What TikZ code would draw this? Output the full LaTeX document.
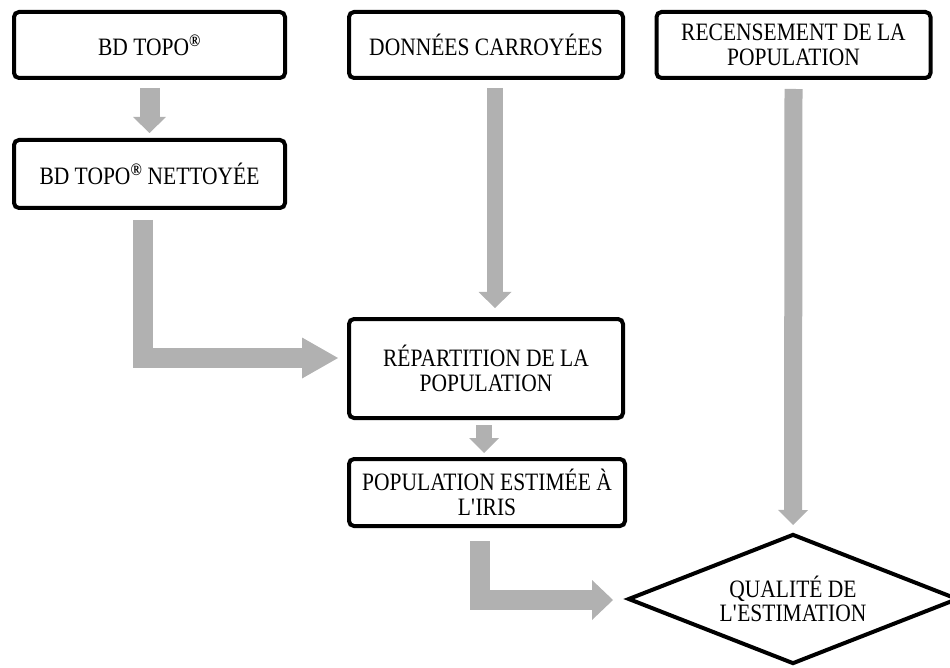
\documentclass[tikz,border=0pt]{standalone}
\usepackage{fontspec}
\setmainfont{Liberation Serif}[FakeStretch=0.86]
\usetikzlibrary{arrows.meta,shapes.geometric}
\definecolor{flowgrey}{HTML}{B1B1B1}

\begin{document}
\begin{tikzpicture}[x=1pt, y=-1pt,
    box/.style={draw, line width=4pt, rounded corners=5pt, fill=white, align=center,
      font=\fontsize{25}{24.5}\selectfont, inner sep=2pt},
    flow/.style n args={3}{draw=flowgrey, line width=#1,
      -{Triangle[length=#2, width=#3, line width=0pt]}}]
  \useasboundingbox (0,0) rectangle (950,668);

  % top row
  \node[box, minimum width=271pt, minimum height=66pt] (bdtopo) at (149.5,45) {BD TOPO\textsuperscript{\textbf{®}}};
  \node[box, minimum width=274pt, minimum height=66pt] (donnees) at (486,45) {DONNÉES CARROYÉES};
  \node[box, minimum width=274pt, minimum height=66pt] (recens) at (793.5,45) {RECENSEMENT DE LA\\POPULATION};

  \node[box, minimum width=271pt, minimum height=68pt] (nettoye) at (149.5,174) {BD TOPO\textsuperscript{\textbf{®}} NETTOYÉE};
  \node[box, minimum width=274pt, minimum height=99pt] (repart) at (486,368.5) {RÉPARTITION DE LA\\POPULATION};
  \node[box, minimum width=276pt, minimum height=67pt] (estim) at (487,492.5) {POPULATION ESTIMÉE À\\L\textquotesingle IRIS};
  \node[box, shape=diamond, rounded corners=0pt, aspect=2.5, inner sep=0pt,
    minimum width=330pt, minimum height=130pt] (qualite) at (793,599) {QUALITÉ DE\\L\textquotesingle ESTIMATION};

  % grey block arrows
  \draw[flow={20pt}{16pt}{33pt}] ([yshift=-8pt]bdtopo.south) -- ([yshift=5pt]nettoye.north);
  \draw[flow={20pt}{36pt}{41pt}] ([xshift=-7pt, yshift=-10pt]nettoye.south) |- ([xshift=-9pt, yshift=10.5pt]repart.west);
  \draw[flow={16pt}{16pt}{33pt}] ([xshift=9pt, yshift=-8pt]donnees.south) -- ([xshift=9pt, yshift=9pt]repart.north);
  \draw[flow={16pt}{15pt}{30pt}] ([xshift=-2pt, yshift=-5pt]repart.south) -- ([xshift=-3pt, yshift=4pt]estim.north);
  \draw[flow={18pt}{15pt}{30pt}] ([yshift=-9pt]recens.south) -- ([yshift=7pt]qualite.north);
  \draw[flow={20pt}{21pt}{40pt}] ([xshift=-7pt, yshift=-13pt]estim.south) |- ([xshift=-13pt, yshift=-1pt]qualite.west);
\end{tikzpicture}
\end{document}
